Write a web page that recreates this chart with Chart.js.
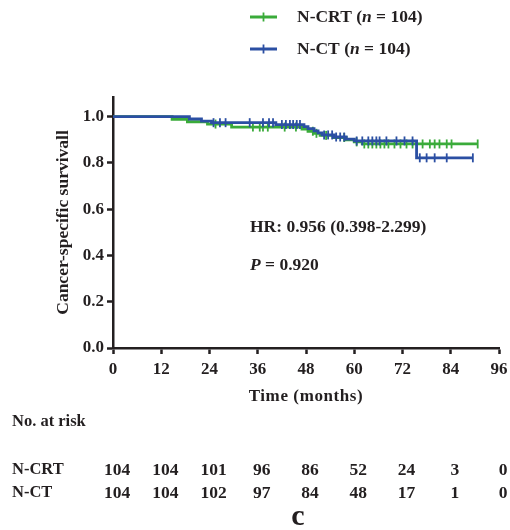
<!DOCTYPE html>
<html><head><meta charset="utf-8">
<script src="https://cdn.jsdelivr.net/npm/chart.js@4"></script>
<style>html,body{margin:0;padding:0;background:#fff;}#wrap{width:510px;height:530px;position:relative}</style>
</head><body><div id="wrap"><canvas id="c" width="510" height="530"></canvas></div>
<script>
const seriesNames = ['N-CRT', 'N-CT'];
const xTicks = [0, 12, 24, 36, 48, 60, 72, 84, 96];
const yTicks = [0.0, 0.2, 0.4, 0.6, 0.8, 1.0];
// N-CRT (green) Kaplan-Meier steps
const crtTimes = [0, 14.7, 18.5, 23.5, 29.5, 47, 48.5, 50, 51.5, 55, 58, 60, 62, 90.7];
const crtSurv  = [1, 0.988, 0.978, 0.968, 0.955, 0.946, 0.937, 0.928, 0.919, 0.91, 0.9, 0.891, 0.882, 0.882];
const crtCensor = [25.5, 34.8, 36.5, 37.3, 38.5, 42.7, 45.5, 49.7, 50.6, 53, 57.5, 60.6, 62.5, 63.5, 64.5, 65.5, 66.5, 67.5, 68.5, 70, 71.5, 73, 74.5, 77, 78.8, 80, 81.2, 83, 84.2, 90.7];
// N-CT (blue) Kaplan-Meier steps
const ctTimes = [0, 19, 22, 24.5, 40.5, 47.5, 48.5, 50, 51, 52, 55, 58, 60, 75.5, 89.5];
const ctSurv  = [1, 0.99, 0.981, 0.974, 0.966, 0.957, 0.948, 0.939, 0.93, 0.921, 0.912, 0.903, 0.895, 0.822, 0.822];
const ctCensor = [25, 26.6, 28, 34, 37.3, 38.8, 39.8, 42, 43, 44, 44.8, 45.7, 46.5, 52.5, 53.5, 54.5, 55.5, 56.5, 57.5, 60.6, 62, 63.5, 64.5, 65.5, 66.3, 68, 70.5, 72.5, 74.5, 76.3, 78, 80, 83, 89.5];
const riskCRT = [104, 104, 101, 96, 86, 52, 24, 3, 0];
const riskCT  = [104, 104, 102, 97, 84, 48, 17, 1, 0];

const GREEN = '#3aab3a', BLUE = '#2b4fa3', INK = '#231f20';
const FONT = '"Liberation Serif", "Times New Roman", serif';

function survAt(times, surv, t) {
  let v = surv[0];
  for (let i = 0; i < times.length; i++) if (times[i] <= t) v = surv[i];
  return v;
}
const pts = (ts, ss) => ts.map((t, i) => ({x: t, y: ss[i]}));
const cens = (cs, ts, ss) => cs.map(t => ({x: t, y: survAt(ts, ss, t)}));

function drawRich(ctx, parts, x, y, size) {
  let cx = x;
  for (const [txt, it] of parts) {
    ctx.font = (it ? 'italic ' : '') + 'bold ' + size + 'px ' + FONT;
    ctx.fillText(txt, cx, y);
    cx += ctx.measureText(txt).width;
  }
}

const textPlugin = {
  id: 'texts',
  afterDraw(chart) {
    const ctx = chart.ctx, xs = chart.scales.x, ca = chart.chartArea;
    ctx.save();
    ctx.fillStyle = INK;
    ctx.textBaseline = 'middle';
    // y title
    ctx.save();
    ctx.translate(63, (ca.top + ca.bottom) / 2);
    ctx.rotate(-Math.PI / 2);
    ctx.textAlign = 'center';
    ctx.font = 'bold 17.5px ' + FONT;
    ctx.fillText('Cancer-specific survivall', 0, 0);
    ctx.restore();
    // x title
    ctx.textAlign = 'center';
    ctx.font = 'bold 17px ' + FONT;
    ctx.letterSpacing = '0.6px';
    ctx.fillText('Time (months)', (ca.left + ca.right) / 2, 397);
    ctx.letterSpacing = '0px';
    // annotations
    ctx.textAlign = 'left';
    drawRich(ctx, [['HR: 0.956 (0.398-2.299)', false]], 250, 227, 17.5);
    drawRich(ctx, [['P', true], [' = 0.920', false]], 250, 265, 17.5);
    // legend
    const leg = [[seriesNames[0], GREEN, 17], [seriesNames[1], BLUE, 49]];
    for (const [name, col, ly] of leg) {
      ctx.strokeStyle = col;
      ctx.lineWidth = 3;
      ctx.beginPath(); ctx.moveTo(250, ly); ctx.lineTo(277, ly); ctx.stroke();
      ctx.lineWidth = 1.8;
      ctx.beginPath(); ctx.moveTo(263.5, ly - 4.5); ctx.lineTo(263.5, ly + 4.5); ctx.stroke();
      ctx.fillStyle = INK;
      drawRich(ctx, [[name + ' (', false], ['n', true], [' = 104)', false]], 297, ly, 17.5);
    }
    // risk table
    ctx.font = 'bold 16.5px ' + FONT;
    ctx.textAlign = 'left';
    ctx.fillText('No. at risk', 12, 422);
    ctx.fillText(seriesNames[0], 12, 470);
    ctx.fillText(seriesNames[1], 12, 493);
    ctx.textAlign = 'center';
    ctx.font = 'bold 17.5px ' + FONT;
    xTicks.forEach((t, i) => {
      const px = xs.getPixelForValue(t) + 4;
      ctx.fillText(String(riskCRT[i]), px, 470);
      ctx.fillText(String(riskCT[i]), px, 493);
    });
    ctx.font = 'bold 30px ' + FONT;
    ctx.fillText('c', 298, 517);
    ctx.restore();
  }
};

new Chart(document.getElementById('c'), {
  type: 'scatter',
  data: {
    datasets: [
      {label: seriesNames[1], data: pts(ctTimes, ctSurv), showLine: true, stepped: 'before', borderColor: BLUE, borderWidth: 2.8, pointRadius: 0, fill: false},
      {label: seriesNames[1] + ' censored', data: cens(ctCensor, ctTimes, ctSurv), showLine: false, pointStyle: 'line', rotation: 90, pointRadius: 4.5, borderColor: BLUE, backgroundColor: BLUE, borderWidth: 1.8},
      {label: seriesNames[0], data: pts(crtTimes, crtSurv), showLine: true, stepped: 'before', borderColor: GREEN, borderWidth: 2.8, pointRadius: 0, fill: false},
      {label: seriesNames[0] + ' censored', data: cens(crtCensor, crtTimes, crtSurv), showLine: false, pointStyle: 'line', rotation: 90, pointRadius: 4.5, borderColor: GREEN, backgroundColor: GREEN, borderWidth: 1.8}
    ]
  },
  options: {
    responsive: false, animation: false, events: [],
    layout: {padding: {left: 0, right: 11, top: 97, bottom: 147}},
    plugins: {legend: {display: false}, tooltip: {enabled: false}},
    scales: {
      x: {
        type: 'linear', min: 0, max: 96,
        afterBuildTicks(s) { s.ticks = xTicks.map(v => ({value: v})); },
        ticks: {stepSize: 12, color: INK, padding: 5, font: {family: FONT, size: 17, weight: 'bold'}, maxRotation: 0},
        grid: {drawOnChartArea: false, drawTicks: true, tickLength: 6, tickWidth: 2.5, tickColor: INK},
        border: {display: true, color: INK, width: 2.5},
        afterFit(s) { s.height = 35; s.paddingLeft = 0; s.paddingRight = 0; }
      },
      y: {
        type: 'linear', min: 0, max: 1.085,
        afterBuildTicks(s) { s.ticks = yTicks.map(v => ({value: v})); },
        ticks: {color: INK, padding: 3, font: {family: FONT, size: 17, weight: 'bold'}, callback: v => Number(v).toFixed(1)},
        grid: {drawOnChartArea: false, drawTicks: true, tickLength: 6, tickWidth: 2.5, tickColor: INK},
        border: {display: true, color: INK, width: 2.5},
        afterFit(s) { s.width = 113; s.paddingTop = 0; s.paddingBottom = 0; }
      }
    }
  },
  plugins: [textPlugin]
});
</script></body></html>
